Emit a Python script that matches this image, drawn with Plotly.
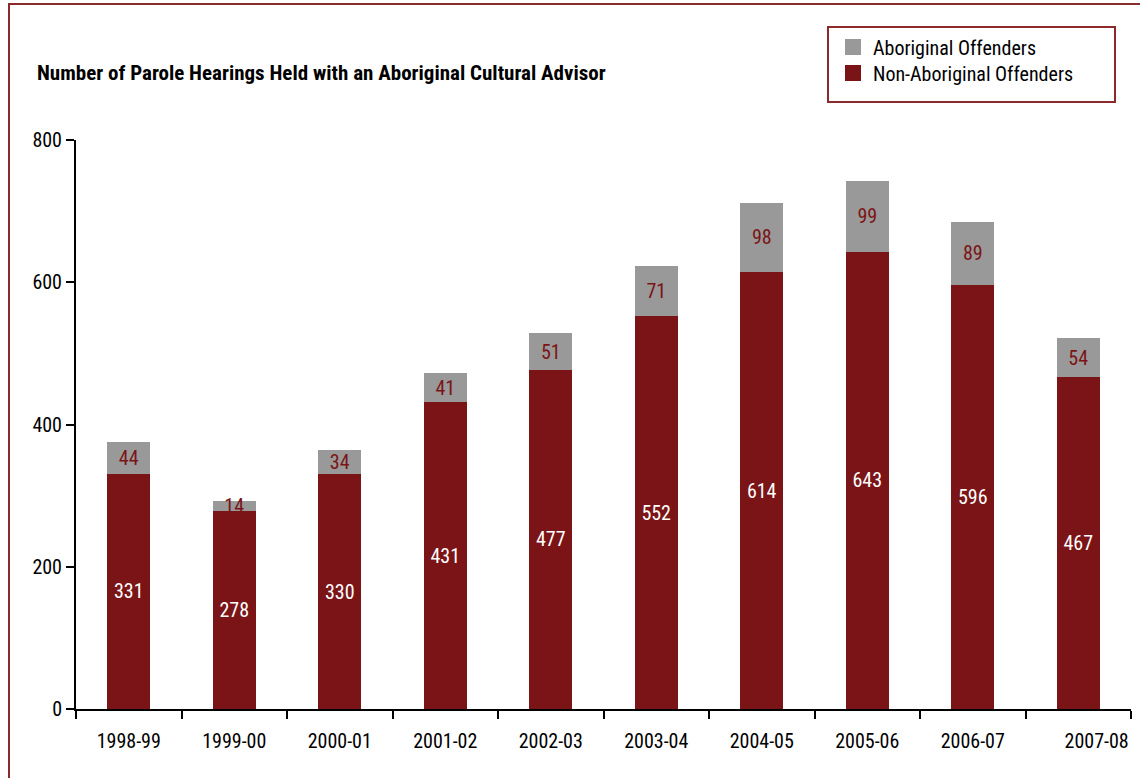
import plotly.graph_objects as go

categories = ["1998-99", "1999-00", "2000-01", "2001-02", "2002-03",
              "2003-04", "2004-05", "2005-06", "2006-07", "2007-08"]
tick_labels = ["1998-99", "1999-00", "2000-01", "2001-02", "2002-03",
               "2003-04", "2004-05", "2005-06", "2006-07",
               "\u00a0\u00a0\u00a0\u00a0\u00a0\u00a0\u00a0\u00a02007-08"]
non_aboriginal = [331, 278, 330, 431, 477, 552, 614, 643, 596, 467]
aboriginal = [44, 14, 34, 41, 51, 71, 98, 99, 89, 54]

RED = "#7B1416"
GRAY = "#999999"
FONT = "Liberation Sans Narrow, Arial Narrow, Roboto Condensed, sans-serif"

W, H = 1140, 778
ML, MR, MT, MB = 76, 9, 140, 69
PW, PH = W - ML - MR, H - MT - MB


def px_x(p):
    return (p - ML) / PW


def px_y(p):
    return (H - MB - p) / PH


fig = go.Figure()
fig.add_trace(go.Bar(
    x=categories, y=non_aboriginal, name="Non-Aboriginal Offenders",
    marker=dict(color=RED, line=dict(width=0)), width=0.41,
    text=non_aboriginal, textposition="inside", insidetextanchor="middle",
    textangle=0, constraintext="none",
    textfont=dict(color="white", size=20, family=FONT),
    showlegend=False, hoverinfo="x+y+name"))
fig.add_trace(go.Bar(
    x=categories, y=aboriginal, name="Aboriginal Offenders",
    marker=dict(color=GRAY, line=dict(width=0)), width=0.41,
    text=aboriginal, textposition="inside", insidetextanchor="middle",
    textangle=0, constraintext="none",
    textfont=dict(color=RED, size=20, family=FONT),
    showlegend=False, hoverinfo="x+y+name"))

# legend entries (one legend per row for exact spacing)
fig.add_trace(go.Scatter(x=[None], y=[None], mode="markers", name="Aboriginal Offenders",
                         marker=dict(symbol="square", size=16, color=GRAY),
                         showlegend=True, legend="legend"))
fig.add_trace(go.Scatter(x=[None], y=[None], mode="markers", name="Non-Aboriginal Offenders",
                         marker=dict(symbol="square", size=16, color=RED),
                         showlegend=True, legend="legend2"))

legend_common = dict(xanchor="left", yanchor="middle", bgcolor="rgba(0,0,0,0)",
                     borderwidth=0, font=dict(family=FONT, size=20, color="black"),
                     itemwidth=30)

fig.update_layout(
    width=W, height=H,
    margin=dict(l=ML, r=MR, t=MT, b=MB, autoexpand=False),
    barmode="stack",
    plot_bgcolor="white", paper_bgcolor="white",
    font=dict(family=FONT, size=20, color="black"),
    title=dict(text="<b>Number of Parole Hearings Held with an Aboriginal Cultural Advisor</b>",
               x=37 / W, xref="container", xanchor="left",
               y=1 - 73 / H, yref="container", yanchor="middle",
               font=dict(family=FONT, size=21, color="black")),
    legend=dict(x=px_x(833), y=px_y(47), **legend_common),
    legend2=dict(x=px_x(833), y=px_y(73), **legend_common),
    xaxis=dict(type="category", categoryorder="array", categoryarray=categories,
               tickmode="array", tickvals=categories, ticktext=tick_labels,
               tickangle=0, automargin=False,
               showline=True, linecolor="black", linewidth=2,
               ticks="outside", tickson="boundaries", ticklen=8, tickwidth=2, tickcolor="black",
               ticklabelstandoff=13, showgrid=False, zeroline=False,
               tickfont=dict(family=FONT, size=20, color="black")),
    yaxis=dict(range=[0, 800], tickvals=[0, 200, 400, 600, 800], automargin=False,
               showline=True, linecolor="black", linewidth=2,
               ticks="outside", ticklen=8, tickwidth=2, tickcolor="black",
               showgrid=False, zeroline=False,
               tickfont=dict(family=FONT, size=20, color="black")),
    shapes=[
        dict(type="rect", xref="paper", yref="paper",
             x0=px_x(9), x1=px_x(1160), y0=px_y(800), y1=px_y(4),
             line=dict(color="#8B2A2A", width=2), fillcolor="rgba(0,0,0,0)", layer="below"),
        dict(type="rect", xref="paper", yref="paper",
             x0=px_x(828), x1=px_x(1115), y0=px_y(102), y1=px_y(27),
             line=dict(color="#8B2A2A", width=2), fillcolor="rgba(0,0,0,0)"),
    ],
)

fig.write_html("out.html", config={"displayModeBar": False},
               post_script="document.body.style.margin='0';document.body.style.overflow='hidden';")
